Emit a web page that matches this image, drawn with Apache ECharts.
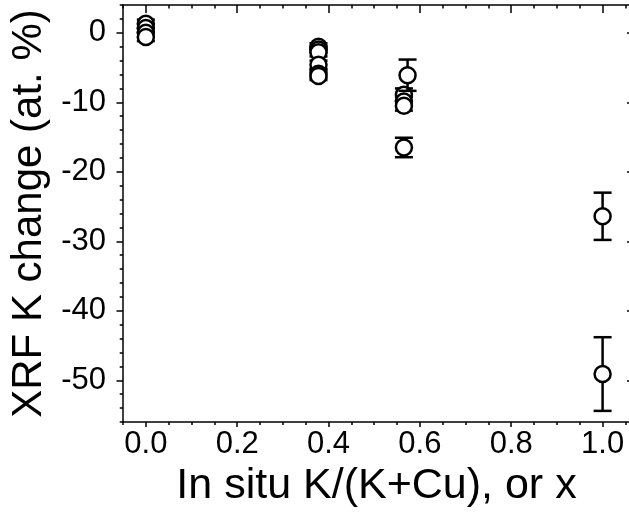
<!DOCTYPE html>
<html>
<head>
<meta charset="utf-8">
<script src="https://cdn.jsdelivr.net/npm/echarts@6/dist/echarts.min.js"></script>
<style>
html,body{margin:0;padding:0;background:#fff;}
#chart{width:629px;height:517px;}
</style>
</head>
<body>
<div id="chart"></div>
<script>
// Data
const xVals = [0, 0, 0, 0, 0.378, 0.378, 0.378, 0.378, 0.378, 0.378, 0.565, 0.565, 0.565, 0.573, 0.565, 1.0, 1.0];
const yVals = [1.3, 0.7, 0.0, -0.6, -2.0, -2.4, -2.8, -4.6, -5.9, -6.2, -8.9, -9.9, -10.5, -6.1, -16.5, -26.4, -49.1];
const yErr  = [0.6, 0.6, 0.6, 0.6, 0.5, 0.5, 0.6, 0.6, 0.6, 0.6, 0.9, 0.7, 0.7, 2.25, 1.4, 3.4, 5.3];
const xTickLabels = [0, 0.2, 0.4, 0.6, 0.8, 1.0];
const yTickLabels = [0, -10, -20, -30, -40, -50];
const xName = 'In situ K/(K+Cu), or x';
const yName = 'XRF K change (at. %)';

const FONT = '"Liberation Sans", Arial, sans-serif';
const points = xVals.map((x, i) => [x, yVals[i], yErr[i]]);

const XMIN = -0.05, XMAX = 1.06, YMIN = -56, YMAX = 4;
const lineStyle = {color: '#000', width: 1.5};
const mainLine = {show: true, onZero: false, lineStyle: lineStyle};
const noLine = {show: false, onZero: false};

const chart = echarts.init(document.getElementById('chart'), null, {renderer: 'canvas'});
chart.setOption({
  animation: false,
  backgroundColor: '#fff',
  grid: {left: 123, right: -1, top: 5, height: 417, containLabel: false, outerBoundsMode: 'none'},
  xAxis: [
    { // bottom main
      type: 'value', position: 'bottom', min: XMIN, max: XMAX,
      axisLine: mainLine,
      axisTick: {show: true, inside: false, length: 5, customValues: xTickLabels, lineStyle: lineStyle},
      axisLabel: {show: true, customValues: xTickLabels, formatter: v => v.toFixed(1), color: '#000',
                  fontFamily: FONT, fontSize: 31, margin: 7},
      splitLine: {show: false},
      name: xName, nameLocation: 'middle', nameGap: 43,
      nameTextStyle: {fontFamily: FONT, fontSize: 43, color: '#000'}
    },
    { // bottom minor
      type: 'value', position: 'bottom', min: XMIN, max: XMAX, interval: 0.05,
      axisLine: noLine,
      axisTick: {show: true, inside: false, length: 3, lineStyle: lineStyle},
      axisLabel: {show: false}, splitLine: {show: false}
    },
    { // top main
      type: 'value', position: 'top', min: XMIN, max: XMAX,
      axisLine: mainLine,
      axisTick: {show: true, inside: true, length: 8, customValues: xTickLabels, lineStyle: lineStyle},
      axisLabel: {show: false}, splitLine: {show: false}
    },
    { // top minor
      type: 'value', position: 'top', min: XMIN, max: XMAX, interval: 0.05,
      axisLine: noLine,
      axisTick: {show: true, inside: true, length: 3.5, lineStyle: lineStyle},
      axisLabel: {show: false}, splitLine: {show: false}
    }
  ],
  yAxis: [
    { // left main
      type: 'value', position: 'left', min: YMIN, max: YMAX,
      axisLine: mainLine,
      axisTick: {show: true, inside: false, length: 6.5, customValues: yTickLabels, lineStyle: lineStyle},
      axisLabel: {show: true, customValues: yTickLabels, color: '#000', fontFamily: FONT, fontSize: 31, margin: 17},
      splitLine: {show: false},
      name: yName, nameLocation: 'middle', nameGap: 66, nameRotate: 90,
      nameTextStyle: {fontFamily: FONT, fontSize: 42, color: '#000'}
    },
    { // left minor
      type: 'value', position: 'left', min: YMIN, max: YMAX, interval: 2,
      axisLine: noLine,
      axisTick: {show: true, inside: false, length: 3.3, lineStyle: lineStyle},
      axisLabel: {show: false}, splitLine: {show: false}
    },
    { // right
      type: 'value', position: 'right', min: YMIN, max: YMAX,
      axisLine: mainLine,
      axisTick: {show: true, inside: true, length: 3, customValues: yTickLabels, lineStyle: lineStyle},
      axisLabel: {show: false}, splitLine: {show: false}
    }
  ],
  series: [{
    type: 'custom',
    xAxisIndex: 0, yAxisIndex: 0,
    data: points,
    clip: false,
    renderItem: function (params, api) {
      const x = api.value(0), y = api.value(1), e = api.value(2);
      const c = api.coord([x, y]);
      const t = api.coord([x, y + e]);
      const b = api.coord([x, y - e]);
      const hw = 9;
      const st = {stroke: '#000', lineWidth: 2.5};
      return {
        type: 'group',
        children: [
          {type: 'line', shape: {x1: c[0], y1: t[1], x2: c[0], y2: b[1]}, style: st},
          {type: 'line', shape: {x1: c[0] - hw, y1: t[1], x2: c[0] + hw, y2: t[1]}, style: st},
          {type: 'line', shape: {x1: c[0] - hw, y1: b[1], x2: c[0] + hw, y2: b[1]}, style: st},
          {type: 'circle', shape: {cx: c[0], cy: c[1], r: 8}, style: {fill: '#fff', stroke: '#000', lineWidth: 2.5}}
        ]
      };
    }
  }]
});
</script>
</body>
</html>
